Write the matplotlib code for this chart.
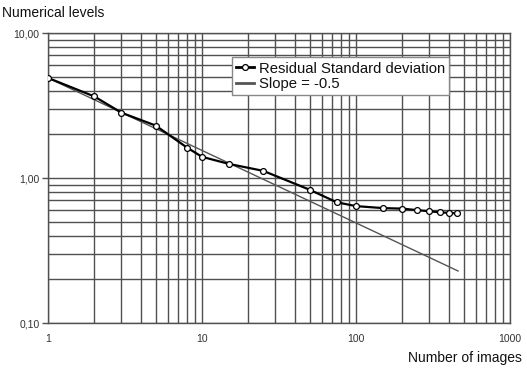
import matplotlib.pyplot as plt
import numpy as np
from matplotlib.ticker import FixedLocator, FixedFormatter, LogLocator, NullFormatter

plt.rcParams['font.family'] = ['Liberation Sans', 'DejaVu Sans']

# data
n_images = [1, 2, 3, 5, 8, 10, 15, 25, 50, 75, 100, 150, 200, 250, 300, 350, 400, 450]
residual_std = [4.9, 3.65, 2.82, 2.3, 1.62, 1.40, 1.25, 1.12, 0.83, 0.68, 0.64,
                0.62, 0.615, 0.60, 0.59, 0.58, 0.575, 0.57]
slope_coef = 4.9
slope_exp = -0.5
slope_x_end = 460

x_ticks = [1, 10, 100, 1000]
x_tick_labels = ['1', '10', '100', '1000']
y_ticks = [0.1, 1, 10]
y_tick_labels = ['0,10', '1,00', '10,00']

fig = plt.figure(figsize=(5.27, 3.70), dpi=100)
ax = fig.add_axes([0.0911, 0.127, 0.8766, 0.7838])
ax.set_xscale('log')
ax.set_yscale('log')
ax.set_xlim(1, 1000)
ax.set_ylim(0.1, 10)

grid_col = '#505050'
ax.xaxis.set_major_locator(FixedLocator(x_ticks))
ax.xaxis.set_major_formatter(FixedFormatter(x_tick_labels))
ax.xaxis.set_minor_locator(LogLocator(base=10, subs=np.arange(2, 10)))
ax.xaxis.set_minor_formatter(NullFormatter())
ax.yaxis.set_major_locator(FixedLocator(y_ticks))
ax.yaxis.set_major_formatter(FixedFormatter(y_tick_labels))
ax.yaxis.set_minor_locator(LogLocator(base=10, subs=np.arange(2, 10)))
ax.yaxis.set_minor_formatter(NullFormatter())
ax.grid(True, which='both', color=grid_col, linewidth=1.0)
ax.set_axisbelow(True)

ax.tick_params(axis='x', which='both', length=0, pad=8, labelsize=7.5, labelcolor='#333333')
ax.tick_params(axis='y', which='major', length=4, width=1, color=grid_col, pad=2,
               labelsize=7.5, labelcolor='#333333')
ax.tick_params(axis='y', which='minor', length=0)
for s in ax.spines.values():
    s.set_color(grid_col)
    s.set_linewidth(1.0)

xs = np.array([1, slope_x_end], dtype=float)
ax.plot(xs, slope_coef * xs ** slope_exp, color='#555555', linewidth=1.0,
        label='Slope = -0.5', zorder=3)
ax.plot(n_images, residual_std, color='black', linewidth=1.6, marker='o',
        markersize=4.2, markerfacecolor='white', markeredgecolor='black',
        markeredgewidth=0.9, label='Residual Standard deviation', zorder=4)

handles, labels = ax.get_legend_handles_labels()
leg = ax.legend(handles[::-1], labels[::-1], loc='upper left',
                bbox_to_anchor=(0.398, 0.917), fontsize=10.7, frameon=True,
                fancybox=False, shadow=False, handlelength=1.2, handletextpad=0.3,
                borderpad=0.3, labelspacing=0.1, borderaxespad=0)
leg.get_frame().set_edgecolor('#888888')
leg.get_frame().set_linewidth(1.0)
leg.get_frame().set_alpha(1)
for t in leg.get_texts():
    t.set_color('#111111')
leg.legend_handles[1].set_linewidth(2.0)
leg.legend_handles[0].set_color('black')
leg.legend_handles[0].set_linewidth(2.0)

fig.text(0.004, 0.965, 'Numerical levels', fontsize=10, color='#111111',
         ha='left', va='center')
fig.text(0.99, 0.033, 'Number of images', fontsize=10, color='#111111',
         ha='right', va='center')

fig.savefig('out.png', dpi=100)
